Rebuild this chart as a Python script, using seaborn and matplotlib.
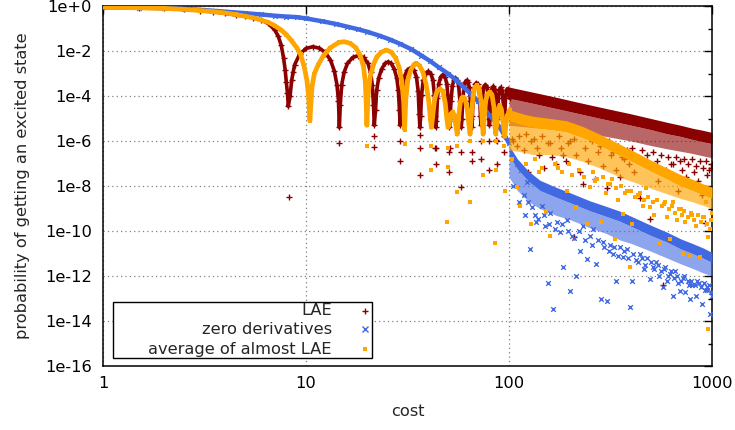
import matplotlib
matplotlib.use("Agg")
import matplotlib.pyplot as plt
import seaborn as sns
from matplotlib.ticker import FixedLocator, NullLocator, NullFormatter
from matplotlib.patches import Rectangle

# ---------------- data ----------------
series_labels = ["LAE", "zero derivatives", "average of almost LAE"]

# LAE: continuous / lobed part
lae_curve_cost = [1, 1.5, 2, 2.5, 3, 3.5, 4, 4.5, 5, 5.5,
                  6, 6.5, 7, 7.3, 7.55, 7.75, 7.9, 8.0, 8.1, 8.18,
                  8.35, 8.5, 8.65, 8.8, 9.3, 10, 10.8, 11.6, 12.4, 13.2,
                  13.8, 14.2, 14.45, 14.6, 14.75, 15.0, 15.4, 16.0, 17.0, 18.1,
                  19.2, 20.2, 20.8, 21.2, 21.5, 21.7, 22.0, 22.3, 22.8, 23.6,
                  24.5, 25.4, 26.3, 27.2, 28.0, 28.5, 28.85, 29.1, 29.4, 29.8,
                  30.5, 31.5, 32.75, 34.0, 35.0, 35.7, 36.1, 36.4, 36.7, 37.1,
                  37.8, 38.8, 40.0, 41.2, 42.2, 42.9, 43.3, 43.6, 43.9, 44.4,
                  45.1, 46.1, 47.25, 48.4, 49.4, 50.1, 50.6, 50.9, 51.3, 51.8,
                  52.6, 53.5, 54.5, 55.6, 56.5, 57.3, 57.8, 58.2, 58.6, 59.2,
                  60.0, 60.9, 61.85, 62.8, 63.7, 64.5, 65.1, 65.5, 66.0, 66.6,
                  67.4, 68.2, 69.1, 70.1, 71.0, 71.8, 72.3, 72.8, 73.3, 74.0,
                  75.0, 76.45, 78.0, 79.0, 79.6, 80.1, 80.6, 81.3, 82.4, 83.75,
                  85.1, 86.2, 86.9, 87.4, 88.0, 88.7, 89.7, 91.0, 92.3, 93.3,
                  94.1, 94.7, 95.3, 96.1, 97.2, 98.4, 99.6, 100.7]
lae_curve_prob = [8.7e-1, 8.5e-1, 7.9e-1, 7.1e-1, 6.3e-1, 5.5e-1, 4.7e-1, 4.0e-1, 3.5e-1, 3.0e-1,
                  2.4e-1, 1.7e-1, 8.9e-2, 4.5e-2, 1.8e-2, 5e-3, 1.4e-3, 4e-4, 1.4e-4, 3.5e-5,
                  1e-4, 5e-4, 1.2e-3, 2.5e-3, 7.1e-3, 1.3e-2, 1.55e-2, 1.35e-2, 8.9e-3, 4e-3,
                  1.26e-3, 3.2e-4, 6.3e-5, 4e-6, 4e-5, 3.2e-4, 1.12e-3, 2.8e-3, 5.2e-3, 6.3e-3,
                  5.2e-3, 2.8e-3, 1.12e-3, 3.2e-4, 4e-5, 5e-6, 2.5e-5, 1.8e-4, 6.3e-4, 1.6e-3,
                  2.8e-3, 3.3e-3, 2.8e-3, 1.6e-3, 6.3e-4, 1.8e-4, 2.5e-5, 5e-6, 1.6e-5, 1.6e-4,
                  7.1e-4, 1.4e-3, 1.8e-3, 1.4e-3, 7.1e-4, 1.6e-4, 1.6e-5, 4e-6, 1.26e-5, 1.12e-4,
                  5e-4, 1e-3, 1.26e-3, 1e-3, 5e-4, 1.12e-4, 1.26e-5, 4e-6, 7.9e-6, 7.9e-5,
                  3.5e-4, 7.1e-4, 8.9e-4, 7.1e-4, 3.5e-4, 7.9e-5, 7.9e-6, 4e-6, 1e-5, 6.3e-5,
                  2.8e-4, 5e-4, 6.3e-4, 5e-4, 2.8e-4, 6.3e-5, 1e-5, 4e-6, 1e-5, 6.3e-5,
                  2.5e-4, 4.2e-4, 5e-4, 4.2e-4, 2.5e-4, 6.3e-5, 1e-5, 4e-6, 1.26e-5, 7.9e-5,
                  2.2e-4, 3.3e-4, 3.8e-4, 3.3e-4, 2.2e-4, 7.9e-5, 1.26e-5, 5e-6, 1e-5, 7.9e-5,
                  2.5e-4, 3.2e-4, 2.5e-4, 7.9e-5, 1e-5, 5e-6, 1e-5, 7.9e-5, 2.1e-4, 2.7e-4,
                  2.1e-4, 7.9e-5, 1e-5, 5e-6, 1.26e-5, 7.9e-5, 1.9e-4, 2.4e-4, 1.9e-4, 7.9e-5,
                  1.26e-5, 6.3e-6, 1.26e-5, 7.9e-5, 1.8e-4, 2.1e-4, 1.8e-4, 7.9e-5]
# LAE: dense band for large cost (upper edge, dense core edge, lower edge)
lae_band_cost = [100, 130, 170, 220, 300, 400, 500, 600, 700, 800, 900, 1000]
lae_band_top = [2.5e-4, 1.5e-4, 8.9e-5, 5.2e-5, 2.8e-5, 1.6e-5, 1e-5, 6.8e-6, 5e-6, 3.7e-6, 3.0e-6, 2.4e-6]
lae_band_mid = [7.9e-5, 4.8e-5, 2.8e-5, 1.66e-5, 8.9e-6, 5e-6, 3.2e-6, 2.1e-6, 1.6e-6, 1.17e-6, 9.3e-7, 7.6e-7]
lae_band_low = [5e-6, 4e-6, 3.2e-6, 2.5e-6, 1.6e-6, 1e-6, 6.3e-7, 4.5e-7, 3.5e-7, 2.8e-7, 2.2e-7, 1.8e-7]
# LAE: isolated points
lae_dot_cost = [8.25, 14.6, 21.7, 21.7, 29.1, 29.1, 36.4, 36.4, 36.5, 43.6,
                43.6, 43.2, 50.9, 50.9, 51.3, 58.2, 58.2, 65.5, 65.5, 72.8,
                72.8, 80.1, 80.1, 86.5, 87.4, 87.4, 94.7, 94.7, 105, 112,
                118, 124, 133, 140, 148, 155, 163, 171, 180, 190,
                200, 208, 215, 225, 232, 245, 265, 275, 290, 303,
                318, 335, 352, 370, 390, 415, 442, 465, 495, 520,
                545, 574, 595, 625, 650, 680, 710, 745, 780, 815,
                855, 890, 920, 950, 985,
                103, 109, 121, 128, 137, 145, 160, 176, 185, 195,
                210, 238, 255, 282, 310, 325, 345, 360, 380, 405,
                430, 450, 480, 510, 535, 560, 610, 640, 665, 695,
                730, 760, 800, 835, 870, 905, 935, 965, 995]
lae_dot_prob = [3.2e-9, 7.9e-7, 1.6e-6, 5.4e-7, 1e-6, 1.26e-7, 5e-7, 3.2e-8, 1.8e-6, 5e-7,
                1e-7, 4.7e-7, 3.2e-7, 4e-8, 4.7e-7, 3.2e-7, 8.9e-9, 3.2e-7, 1.26e-7, 1e-6,
                1.6e-7, 1e-6, 5e-8, 1.07e-6, 1e-6, 1e-7, 1.6e-6, 3.2e-7, 1e-6, 1.6e-6,
                4e-7, 4e-8, 1.26e-6, 2.5e-7, 6.3e-8, 7.9e-7, 2e-7, 1e-7, 5e-7, 1.26e-7,
                1e-6, 5.6e-11, 2.5e-7, 4e-8, 1.26e-8, 1.26e-7, 2e-8, 3.2e-7, 7.9e-8, 7.9e-9,
                2.5e-7, 5e-8, 2.5e-8, 1.6e-7, 1e-7, 4e-8, 2.8e-9, 1e-7, 3.5e-10, 6.3e-8,
                1.6e-8, 4e-13, 5e-8, 1e-7, 2e-8, 6.3e-9, 5e-8, 2.5e-8, 1e-8, 4e-8,
                1.6e-8, 4e-9, 2.2e-10, 3.2e-8, 6.3e-8,
                1.26e-6, 6.3e-7, 2e-6, 1e-6, 5e-7, 1.6e-6, 7.9e-7, 1.6e-6, 2.5e-7, 7.9e-7,
                1.26e-6, 5e-7, 1e-6, 6.3e-7, 1e-6, 3.2e-7, 6.3e-7, 2e-7, 4e-7, 5e-7,
                2e-7, 4e-7, 2.5e-7, 3.2e-7, 1.26e-7, 2.5e-7, 2e-7, 1e-7, 2e-7, 1.26e-7,
                1.6e-7, 1e-7, 1.6e-7, 7.9e-8, 1.26e-7, 6.3e-8, 1.26e-7, 5e-8, 1e-7]

# zero derivatives
zd_curve_cost = [1, 1.5, 2, 2.5, 3, 4, 5, 6, 7, 8,
                 9, 10, 12, 14, 16, 18, 20, 23, 26, 29,
                 33, 37, 41, 45, 50, 55, 60, 65, 70, 75,
                 80, 85, 90, 95, 100]
zd_curve_prob = [8.9e-1, 8.5e-1, 7.9e-1, 7.4e-1, 6.8e-1, 5.6e-1, 4.8e-1, 4.2e-1, 3.7e-1, 3.4e-1,
                 3.2e-1, 2.8e-1, 2.1e-1, 1.6e-1, 1.2e-1, 9.3e-2, 7.2e-2, 4.8e-2, 3.2e-2, 2.1e-2,
                 1.2e-2, 6.3e-3, 3.5e-3, 1.9e-3, 1e-3, 5e-4, 2.4e-4, 1.2e-4, 6e-5, 3e-5,
                 1.4e-5, 7.6e-6, 4e-6, 1.8e-6, 8e-7]
zd_band_cost = [100, 110, 125, 142, 170, 200, 250, 300, 352, 400, 500, 600, 700, 800, 900, 1000]
zd_band_top = [6.3e-7, 1.6e-7, 4.5e-8, 1.8e-8, 8.9e-9, 5e-9, 2.2e-9, 1.26e-9, 7.6e-10, 4.5e-10,
               1.8e-10, 8.9e-11, 4.5e-11, 2.8e-11, 1.8e-11, 1.12e-11]
zd_band_mid = [2.2e-7, 5.6e-8, 1.6e-8, 6.3e-9, 3.2e-9, 1.8e-9, 7.9e-10, 4.5e-10, 2.7e-10, 1.6e-10,
               6.3e-11, 3.2e-11, 1.6e-11, 1e-11, 6.3e-12, 4e-12]
zd_band_low = [2.5e-8, 6.3e-9, 2e-9, 1e-9, 5e-10, 3.2e-10, 1.4e-10, 7.9e-11, 4e-11, 2.8e-11,
               1.26e-11, 6.3e-12, 3.5e-12, 2.2e-12, 1.4e-12, 1e-12]
zd_dot_cost = [110, 115, 118, 123, 124, 127, 130, 134, 139, 145,
               150, 155, 160, 165, 172, 178, 185, 192, 200, 208,
               215, 224, 232, 241, 250, 260, 269, 285, 290, 303,
               315, 325, 338, 352, 364, 380, 393, 405, 420, 442,
               460, 480, 495, 510, 530, 550, 574, 590, 600, 620,
               640, 660, 680, 695, 720, 740, 760, 780, 800, 830,
               860, 895, 920, 950, 980, 1000,
               105, 112, 120, 136, 148, 158, 168, 182, 195, 205,
               220, 236, 255, 275, 295, 310, 330, 345, 370, 385,
               410, 430, 450, 470, 500, 520, 540, 560, 580, 610,
               630, 650, 670, 705, 730, 770, 790, 820, 845, 880,
               910, 940, 970, 990]
zd_dot_prob = [1e-7, 5e-8, 4e-9, 1.5e-8, 1.9e-9, 1.6e-11, 1.15e-9, 5e-10, 3.5e-10, 1.26e-9,
               1.6e-10, 5e-13, 6.3e-10, 3.4e-14, 2.5e-10, 8.7e-11, 2.4e-12, 3.2e-10, 2.2e-13, 5e-11,
               1e-12, 1.35e-11, 1.6e-10, 5.6e-12, 6.3e-11, 1.26e-10, 3.5e-12, 1e-13, 3.2e-11, 7.9e-14,
               2.5e-11, 1e-11, 6.2e-13, 2e-11, 6.8e-12, 1.6e-11, 4e-14, 6.2e-13, 5e-12, 1e-11,
               2e-12, 6.3e-12, 7.6e-13, 2.4e-12, 4e-12, 1e-12, 3.2e-13, 2.5e-12, 6.2e-13, 1.26e-12,
               1.26e-13, 1.6e-12, 5e-13, 2.2e-13, 7.9e-13, 2e-13, 6.3e-13, 1e-13, 4e-13, 1.26e-13,
               5e-13, 5.9e-14, 2.5e-13, 3.2e-13, 2.1e-14, 1.26e-13,
               1e-8, 2e-9, 5e-10, 2.5e-10, 5e-10, 2e-10, 1.26e-10, 2e-10, 1e-10, 6.3e-11,
               1e-10, 4e-11, 2.5e-11, 4e-11, 2e-11, 1.26e-11, 2e-11, 8e-12, 1.26e-11, 6.3e-12,
               1e-11, 4e-12, 6.3e-12, 3.2e-12, 4e-12, 2e-12, 3.2e-12, 1.6e-12, 2e-12, 1e-12,
               1.6e-12, 7.9e-13, 1e-12, 6.3e-13, 1e-12, 4e-13, 6.3e-13, 4e-13, 6.3e-13, 3.2e-13,
               5e-13, 2.5e-13, 4e-13, 2e-13]

# average of almost LAE
avg_curve_cost = [1, 1.5, 2, 2.5, 3, 3.5, 4, 4.5, 5, 5.5,
                  6, 6.5, 7, 7.5, 8, 8.5, 9.0, 9.4, 9.8, 10.1,
                  10.3, 10.45, 10.7, 11.0, 11.5, 12.2, 13.2, 14.5, 15.4, 16.5,
                  17.6, 18.5, 19.2, 19.6, 19.85, 19.95, 20.2, 20.7, 21.5, 22.3,
                  23.5, 24.9, 26.3, 27.6, 28.8, 29.7, 30.3, 30.6, 31.0, 31.7,
                  32.8, 34.0, 35.0, 36.3, 37.7, 39.0, 40.2, 41.0, 41.5, 42.1,
                  43.0, 44.2, 45.7, 47.2, 48.5, 49.4, 50.1, 50.8, 51.8, 52.7,
                  53.8, 54.9, 55.6, 56.4, 57.5, 58.5, 59.5, 60.8, 62.3, 63.5,
                  64.3, 65.2, 66.5, 67.9, 69.5, 71.2, 72.8, 73.9, 74.6, 75.4,
                  76.8, 78.6, 80.6, 82.5, 84.3, 85.4, 86.0, 86.8, 88.2, 90.0,
                  91.8, 93.8, 95.3, 96.5, 98.0, 101.0]
avg_curve_prob = [8.9e-1, 8.3e-1, 7.8e-1, 7.1e-1, 6.3e-1, 5.6e-1, 4.9e-1, 4.2e-1, 3.5e-1, 3.0e-1,
                  2.4e-1, 1.9e-1, 1.35e-1, 8.9e-2, 5.4e-2, 2.8e-2, 1.4e-2, 7.1e-3, 2e-3, 5e-4,
                  1e-4, 7.9e-6, 2.5e-4, 1e-3, 2.5e-3, 6.3e-3, 1.4e-2, 2.4e-2, 2.6e-2, 2.2e-2,
                  1.4e-2, 6.3e-3, 2e-3, 4e-4, 2.5e-5, 5e-6, 1e-4, 7.1e-4, 2.5e-3, 5.4e-3,
                  8.9e-3, 1.1e-2, 8.9e-3, 5e-3, 1.8e-3, 4e-4, 5e-5, 3.2e-6, 6.3e-5, 5e-4,
                  1.4e-3, 2.5e-3, 2.8e-3, 2.2e-3, 1.12e-3, 3.5e-4, 6.3e-5, 1e-5, 4e-6, 1.26e-5,
                  7.1e-5, 1.6e-4, 2.1e-4, 1.6e-4, 5e-5, 1e-5, 4e-6, 6.3e-6, 1.6e-5, 1.95e-5,
                  1.4e-5, 4e-6, 2e-6, 1e-5, 5e-5, 8.3e-5, 9.1e-5, 7.1e-5, 2.5e-5, 5e-6,
                  2e-6, 1.26e-5, 1e-4, 2.4e-4, 3e-4, 2.2e-4, 6.3e-5, 6.3e-6, 2e-6, 1e-5,
                  6.3e-5, 1.26e-4, 1.5e-4, 1.12e-4, 3.2e-5, 4e-6, 2e-6, 5e-6, 2.2e-5, 3.9e-5,
                  2.5e-5, 5e-6, 1.6e-6, 5e-6, 1.26e-5, 2.5e-5]
avg_band_cost = [100, 117, 131, 160, 192, 230, 280, 352, 420, 500, 600, 700, 800, 900, 1000]
avg_band_top = [2.5e-5, 1.6e-5, 1.26e-5, 1e-5, 7.9e-6, 4.5e-6, 2e-6, 7.1e-7, 3.2e-7, 1.4e-7,
                6.3e-8, 3.2e-8, 2e-8, 1.26e-8, 8.9e-9]
avg_band_mid = [7.9e-6, 5e-6, 4e-6, 3.2e-6, 2.5e-6, 1.4e-6, 6.3e-7, 2.2e-7, 1e-7, 4.5e-8,
                2e-8, 1e-8, 6.3e-9, 4e-9, 2.8e-9]
avg_band_low = [4e-7, 3.2e-7, 2.5e-7, 2.5e-7, 2e-7, 1.26e-7, 6.3e-8, 2.5e-8, 1.4e-8, 7.9e-9,
                4.5e-9, 2.8e-9, 2e-9, 1.4e-9, 1e-9]
avg_dot_cost = [19.95, 30.6, 41.5, 41.5, 50.1, 50.1, 55.6, 55.6, 64.3, 64.3,
                74.6, 74.6, 86.0, 86.0, 95.0, 95.5, 49.4, 85, 110, 113,
                128, 140, 153, 159, 175, 192, 205, 215, 241, 250,
                265, 285, 300, 315, 331, 345, 364, 380, 393, 405,
                430, 455, 475, 495, 520, 553, 580, 600, 620, 645,
                670, 700, 718, 740, 780, 800, 830, 873, 900, 930,
                955, 960, 980, 1000,
                104, 121, 135, 146, 168, 183, 198, 222, 235, 258,
                272, 292, 308, 322, 338, 358, 372, 398, 418, 442,
                465, 485, 510, 535, 565, 590, 612, 635, 658, 685,
                710, 730, 760, 790, 815, 850, 885, 915, 945, 990]
avg_dot_prob = [6.3e-7, 7.6e-7, 6.3e-7, 5e-8, 5e-7, 6.9e-8, 6.3e-7, 5.4e-9, 1e-6, 1.9e-9,
                1e-6, 3e-8, 1e-6, 5e-8, 6.3e-7, 6.3e-9, 2.6e-10, 2.8e-11, 8.9e-9, 1.35e-9,
                1.95e-10, 4e-8, 6.8e-10, 6.3e-11, 6.3e-8, 6.3e-9, 3.2e-8, 1.15e-9, 2.1e-10, 8.9e-9,
                1.6e-8, 2.5e-10, 5e-9, 1.26e-8, 4.5e-11, 2.5e-9, 5.9e-10, 6.3e-9, 2.6e-12, 2.1e-10,
                4e-9, 1.26e-9, 7.9e-9, 1.15e-9, 5e-10, 2.8e-11, 1.6e-9, 4e-10, 4.5e-11, 2e-9,
                3.2e-10, 1e-9, 1e-11, 2.5e-10, 7.9e-12, 5e-10, 1.6e-10, 6.8e-12, 4e-10, 1.9e-9,
                5.2e-11, 4.5e-15, 1.26e-10, 6.3e-10,
                1.6e-7, 1e-7, 1.6e-7, 6.3e-8, 1e-7, 4e-8, 1e-7, 5e-8, 2.5e-8, 4e-8,
                2e-8, 2.5e-8, 1.26e-8, 2e-8, 7.9e-9, 1e-8, 5e-9, 6.3e-9, 3.2e-9, 5e-9,
                2.5e-9, 3.2e-9, 2e-9, 2.5e-9, 1.26e-9, 2e-9, 1e-9, 1.26e-9, 6.3e-10, 1e-9,
                5e-10, 7.9e-10, 4e-10, 6.3e-10, 3.2e-10, 5e-10, 2.5e-10, 4e-10, 2e-10, 3.2e-10]

x_ticks = [1, 10, 100, 1000]
x_tick_labels = ["1", "10", "100", "1000"]
y_ticks = [1e0, 1e-2, 1e-4, 1e-6, 1e-8, 1e-10, 1e-12, 1e-14, 1e-16]
y_tick_labels = ["1e+0", "1e-2", "1e-4", "1e-6", "1e-8", "1e-10", "1e-12", "1e-14", "1e-16"]
y_minor_ticks = [1e-1, 1e-3, 1e-5, 1e-7, 1e-9, 1e-11, 1e-13, 1e-15]

# ---------------- drawing ----------------
sns.set_style("white")
plt.rcParams["font.family"] = ["DejaVu Sans"]
FS = 11.7

fig = plt.figure(figsize=(7.35, 4.30), dpi=100)
ax = fig.add_axes([103 / 735, 64 / 430, 609 / 735, 360 / 430])
ax.set_xscale("log")
ax.set_yscale("log")

colors = ["#8b0000", "#4169e1", "#ffa500"]
markers = ["+", "x", "s"]
msizes = [16, 11, 9]
lws = [2.6, 3.2, 3.4]
band_alpha = [0.6, 0.6, 0.65]

series = [
    (lae_curve_cost, lae_curve_prob, lae_band_cost, lae_band_top, lae_band_mid, lae_band_low, lae_dot_cost, lae_dot_prob),
    (zd_curve_cost, zd_curve_prob, zd_band_cost, zd_band_top, zd_band_mid, zd_band_low, zd_dot_cost, zd_dot_prob),
    (avg_curve_cost, avg_curve_prob, avg_band_cost, avg_band_top, avg_band_mid, avg_band_low, avg_dot_cost, avg_dot_prob),
]

for i, (cc, cp, bc, bt, bm, bl, dc, dp) in enumerate(series):
    c = colors[i]
    z = 2 + i
    ax.fill_between(bc, bl, bm, color=c, alpha=band_alpha[i], lw=0, zorder=z)
    ax.fill_between(bc, bm, bt, color=c, alpha=1.0, lw=0, zorder=z)
    sns.lineplot(x=cc, y=cp, sort=False, estimator=None, color=c, lw=lws[i], ax=ax, zorder=z)
    if markers[i] == "s":
        sns.scatterplot(x=cc + dc, y=cp + dp, marker="s", s=msizes[i], color=c,
                        edgecolor=c, linewidth=0, ax=ax, zorder=z)
    else:
        sns.scatterplot(x=cc + dc, y=cp + dp, marker=markers[i], s=msizes[i], color=c,
                        linewidth=1.0, ax=ax, zorder=z)

ax.set_xlim(1, 1000)
ax.set_ylim(1e-16, 1)
ax.set_xticks(x_ticks, labels=x_tick_labels)
ax.xaxis.set_minor_locator(NullLocator())
ax.set_yticks(y_ticks, labels=y_tick_labels)
ax.yaxis.set_minor_locator(FixedLocator(y_minor_ticks))
ax.yaxis.set_minor_formatter(NullFormatter())
ax.tick_params(which="both", direction="in", top=True, right=True, labelsize=FS, colors="black")
ax.tick_params(which="major", length=6, width=1.0)
ax.tick_params(which="minor", length=3, width=1.0)
ax.tick_params(axis="y", pad=8)
ax.tick_params(axis="x", pad=7)
ax.grid(True, which="major", color="#808080", linestyle=(0, (1, 2.5)), lw=0.9)
ax.set_axisbelow(True)
for sp in ax.spines.values():
    sp.set_color("black")
    sp.set_linewidth(1.1)

ax.set_xlabel("cost", fontsize=FS)
ax.set_ylabel("probability of getting an excited state", fontsize=FS)
ax.xaxis.set_label_coords(0.5, -0.105)
ax.yaxis.set_label_coords(-0.12, 0.5)

# legend box (gnuplot style: right-aligned text, sample to the right)
ax.add_patch(Rectangle((0.0169, 0.0214), 0.4256, 0.1572, transform=ax.transAxes,
                       facecolor="white", edgecolor="black", lw=1.0, zorder=10))
rows_y = [0.1536, 0.1014, 0.0472]
for i, lab in enumerate(series_labels):
    ax.text(0.376, rows_y[i], lab, transform=ax.transAxes, ha="right", va="center",
            fontsize=FS, zorder=11)
    if markers[i] == "s":
        ax.plot([0.4302], [rows_y[i]], marker="s", ms=3, color=colors[i], mew=0,
                transform=ax.transAxes, zorder=11, clip_on=False)
    else:
        ax.plot([0.4302], [rows_y[i]], marker=markers[i], ms=4, color=colors[i], mew=1.0,
                transform=ax.transAxes, zorder=11, clip_on=False)

fig.savefig("out.png", dpi=100)
